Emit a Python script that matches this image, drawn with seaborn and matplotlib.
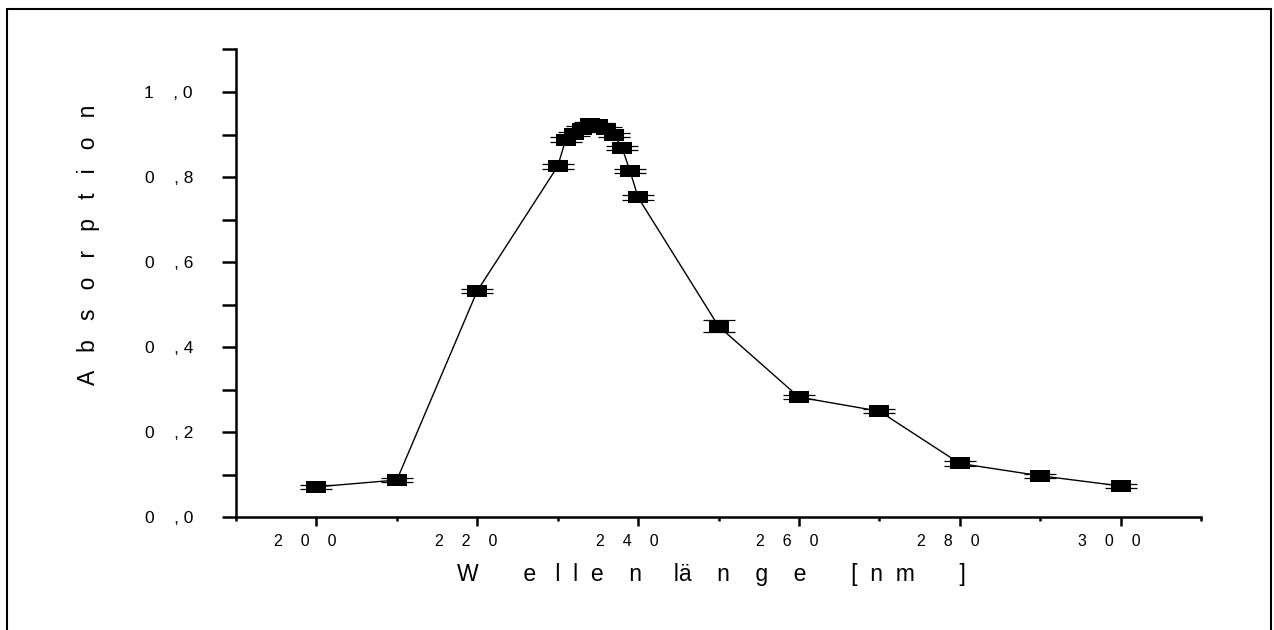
import numpy as np
import pandas as pd
import matplotlib
matplotlib.use('Agg')
import matplotlib.pyplot as plt
from matplotlib.patches import Rectangle
from matplotlib.ticker import MultipleLocator, FixedLocator
import seaborn as sns

# Messwerte
wellenlaenge = [200, 210, 220, 230, 231, 232, 233, 234, 235, 236, 237, 238, 239, 240,
                250, 260, 270, 280, 290, 300]
absorption = [0.071, 0.087, 0.532, 0.825, 0.888, 0.901, 0.914, 0.925, 0.922, 0.912,
              0.899, 0.869, 0.814, 0.752, 0.449, 0.282, 0.249, 0.126, 0.097, 0.073]
fehler = [0.005, 0.005, 0.005, 0.006, 0.005, 0.005, 0.005, 0.005, 0.005, 0.005,
          0.005, 0.005, 0.005, 0.005, 0.014, 0.005, 0.005, 0.005, 0.005, 0.005]

xticks = [200, 220, 240, 260, 280, 300]
xtick_labels = ['    '.join(str(t)) + '     ' for t in xticks]
yticks = [0.0, 0.2, 0.4, 0.6, 0.8, 1.0]
ytick_labels = ['0    , 0', '0    , 2', '0    , 4', '0    , 6', '0    , 8', '1    , 0']
xlabel = ('W' + ' ' * 7 + 'e' + ' ' * 3 + 'l' + ' ' * 2 + 'l' + ' ' * 2 + 'e' + ' ' * 4 + 'n'
          + ' ' * 5 + 'lä' + ' ' * 4 + 'n' + ' ' * 4 + 'g' + ' ' * 4 + 'e' + ' ' * 7 + '['
          + ' ' * 2 + 'n' + ' ' * 2 + 'm' + ' ' * 7 + ']')
ylabel = '   '.join('Absorption')

df = pd.DataFrame({'wl': wellenlaenge, 'abs': absorption, 'err': fehler})

sns.set_theme(style='ticks')
plt.rcParams['font.family'] = ['Liberation Sans', 'DejaVu Sans']

fig = plt.figure(figsize=(12.74, 6.3), dpi=100)
ax = fig.add_axes([236 / 1274, 1 - 517 / 630, (1201 - 236) / 1274, (517 - 49.5) / 630])

# Fehlerbalken
ax.errorbar(df['wl'], df['abs'], yerr=df['err'], fmt='none', ecolor='black',
            elinewidth=0.8, capsize=11.5, capthick=0.9, zorder=2)

# Rechteckige Marker
rect = [(-1, -0.6), (1, -0.6), (1, 0.6), (-1, 0.6), (-1, -0.6)]
sns.lineplot(data=df, x='wl', y='abs', ax=ax, color='black', linewidth=1.0,
             marker=rect, markersize=14.4, markeredgecolor='black',
             markeredgewidth=0, errorbar=None, zorder=3)

ax.set_xlim(190, 310)
ax.set_ylim(0, 1.1)
ax.set_xticks(xticks, xtick_labels)
ax.xaxis.set_minor_locator(MultipleLocator(10))
ax.set_yticks(yticks, ytick_labels)
ax.yaxis.set_minor_locator(FixedLocator([0.1, 0.3, 0.5, 0.7, 0.9, 1.1]))

for s in ['top', 'right']:
    ax.spines[s].set_visible(False)
for s in ['left', 'bottom']:
    ax.spines[s].set_linewidth(1.8)
    ax.spines[s].set_color('black')

ax.tick_params(axis='x', which='major', length=6.5, width=1.8, pad=5.5, labelsize=11.5,
               colors='black')
ax.tick_params(axis='x', which='minor', length=3, width=1.8, colors='black')
ax.tick_params(axis='y', which='both', length=10, width=1.8, pad=21, labelsize=12.5,
               colors='black')

ax.set_xlabel(xlabel, fontsize=16.6, va='center', color='black')
ax.xaxis.set_label_coords((711 - 236) / (1201 - 236), -0.124)
ax.set_ylabel(ylabel, fontsize=16.5, va='center', ha='center', color='black')
ax.yaxis.set_label_coords((89 - 236) / (1201 - 236), 0.582)

# Rahmen um die Grafik
fig.add_artist(Rectangle((7 / 1274, -0.05), 1264 / 1274, 1 - 9 / 630 + 0.05,
                         transform=fig.transFigure, fill=False, lw=1.5, ec='black'))

fig.savefig('out.png', dpi=100)
